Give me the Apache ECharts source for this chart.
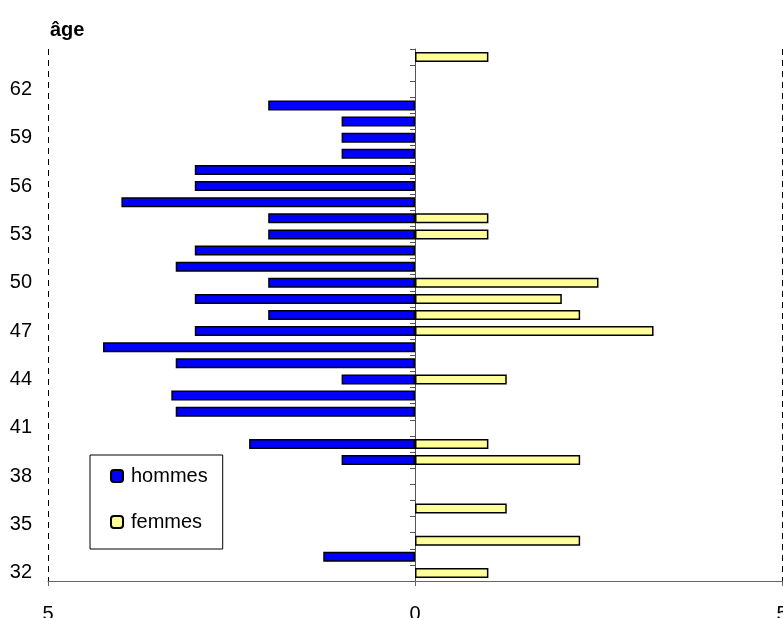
<!DOCTYPE html>
<html lang="fr">
<head>
    <meta charset="UTF-8">
    <title>Pyramide des âges</title>
    <script src="https://cdn.jsdelivr.net/npm/echarts@6/dist/echarts.min.js"></script>
    <style>
        html, body { margin: 0; padding: 0; background: #fff; }
        #chart { width: 783px; height: 618px; }
    </style>
</head>
<body>
    <div id="chart"></div>
<script>
    // âges 32 à 64
    var ages = [];
    for (var a = 32; a <= 64; a++) ages.push(String(a));

    // effectifs (null = pas de barre)
    var hommes = [null, 1.25, null, null, null, null, null, 1, 2.26, null,
        3.26, 3.32, 1, 3.26, 4.25, 3, 2, 3, 2, 3.26,
        3, 2, 2, 4, 3, 3, 1, 1, 1, 2,
        null, null, null];
    var femmes = [1, null, 2.25, null, 1.25, null, null, 2.25, 1, null,
        null, null, 1.25, null, null, 3.25, 2.25, 2, 2.5, null,
        null, 1, 1, null, null, null, null, null, null, null,
        null, null, 1];

    var xTicks = { min: -5, max: 5, step: 5 };

    var font = 'Liberation Sans, Arial, sans-serif';
    var myChart = echarts.init(document.getElementById('chart'));

    var option = {
        animation: false,
        title: {
            text: 'âge',
            left: 45,
            top: 15,
            textStyle: { fontFamily: font, fontSize: 20, fontWeight: 'bold', color: '#000' }
        },
        legend: {
            orient: 'vertical',
            left: 90,
            top: 455,
            padding: [11, 15, 17, 20],
            itemGap: 26,
            itemWidth: 12,
            itemHeight: 12,
            backgroundColor: '#fff',
            borderColor: '#000',
            borderWidth: 1,
            data: ['hommes', 'femmes'],
            textStyle: { fontFamily: font, fontSize: 20, color: '#000', padding: [0, 0, 0, 3] }
        },
        grid: {
            left: 48,
            right: 1,
            top: 49,
            bottom: 37,
            containLabel: false,
            outerBoundsMode: 'none'
        },
        xAxis: {
            type: 'value',
            min: xTicks.min,
            max: xTicks.max,
            interval: xTicks.step,
            axisLine: { show: true, lineStyle: { color: '#666', width: 1 } },
            axisTick: { show: true, length: 5, lineStyle: { color: '#666' } },
            axisLabel: {
                margin: 23,
                fontFamily: font,
                fontSize: 20,
                color: '#000',
                formatter: function (v) { return Math.abs(v); }
            },
            splitLine: { show: true, lineStyle: { color: '#000', type: [6, 5], width: 1 } }
        },
        yAxis: [{
                // étiquettes à gauche
                type: 'category',
                data: ages,
                position: 'left',
                axisLine: { show: false, onZero: false },
                axisTick: { show: false },
                axisLabel: {
                    interval: 2,
                    margin: 16,
                    fontFamily: font,
                    fontSize: 20,
                    color: '#000'
                }
            },
            {
                // axe vertical à zéro
                type: 'category',
                data: ages,
                position: 'left',
                axisLine: { show: true, onZero: true, onZeroAxisIndex: 0, lineStyle: { color: '#555', width: 1 } },
                axisTick: { show: true, interval: 0, length: 5, lineStyle: { color: '#555' } },
                axisLabel: { show: false }
            }
        ],
        series: [{
                name: 'hommes',
                type: 'bar',
                yAxisIndex: 0,
                barWidth: 10,
                barGap: '-100%',
                itemStyle: { color: '#0000FF', borderColor: '#000', borderWidth: 1.5 },
                data: hommes.map(function (v) { return v === null ? null : -v; })
            },
            {
                name: 'femmes',
                type: 'bar',
                yAxisIndex: 0,
                barWidth: 10,
                barGap: '-100%',
                itemStyle: { color: '#FFFF99', borderColor: '#000', borderWidth: 1.5 },
                data: femmes
            }
        ]
    };
    myChart.setOption(option);
</script>
</body>
</html>
